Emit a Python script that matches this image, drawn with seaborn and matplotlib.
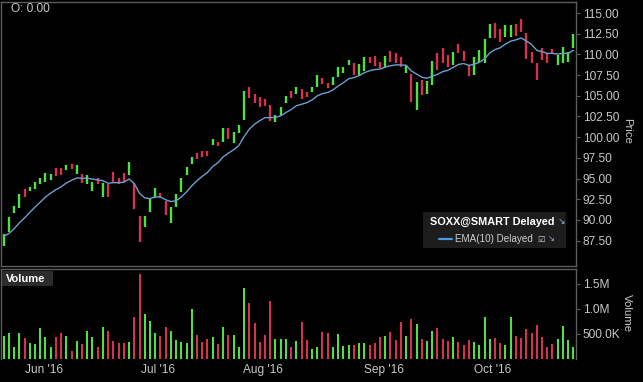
import numpy as np
import pandas as pd
import matplotlib
matplotlib.use("Agg")
import matplotlib.pyplot as plt
from matplotlib.patches import Rectangle
from matplotlib.lines import Line2D
import seaborn as sns

# ---------------- data ----------------
high = [88.3, 90.4, 91.7, 93.1, 93.7, 94.0, 94.6, 95.1, 95.7, 95.6,
        96.3, 96.3, 96.6, 96.8, 96.6, 95.6, 95.4, 94.6, 95.1, 94.5,
        94.3, 95.8, 95.1, 95.7, 97.0, 94.5, 90.5, 90.5, 92.5, 93.9,
        93.3, 92.3, 91.6, 93.1, 95.1, 96.4, 97.6, 98.1, 98.3, 98.3,
        99.8, 99.4, 101.1, 101.1, 100.6, 101.5, 105.6, 106.1, 105.2, 104.9,
        104.6, 103.9, 102.7, 103.6, 105.0, 105.6, 106.1, 105.8, 105.5, 106.1,
        107.5, 107.1, 106.5, 107.3, 108.5, 108.5, 109.3, 109.0, 108.8, 109.7,
        109.7, 109.8, 109.1, 109.8, 110.4, 110.2, 109.7, 108.7, 107.6, 106.7,
        106.9, 106.8, 109.2, 110.2, 110.8, 109.9, 110.3, 111.3, 110.4, 108.7,
        109.7, 110.5, 111.9, 113.7, 113.8, 113.1, 113.5, 113.5, 113.7, 114.3,
        112.6, 110.3, 109.0, 110.8, 110.2, 110.7, 109.9, 110.9, 110.3, 112.5]
low = [86.9, 88.5, 90.8, 91.4, 92.8, 93.5, 93.7, 94.3, 94.6, 94.8,
       95.3, 95.4, 96.0, 96.2, 95.6, 94.5, 94.3, 93.5, 94.3, 92.8,
       92.8, 94.6, 94.3, 94.6, 95.4, 91.3, 87.3, 89.2, 91.0, 92.7,
       92.7, 90.6, 89.6, 91.6, 93.4, 95.4, 96.8, 97.4, 97.6, 97.7,
       99.1, 98.9, 99.4, 99.8, 99.3, 100.5, 102.1, 104.7, 104.1, 103.6,
       103.8, 102.0, 101.8, 102.7, 104.1, 104.7, 105.2, 104.6, 104.9, 105.5,
       106.1, 106.4, 105.9, 106.3, 107.3, 107.8, 108.7, 107.5, 107.5, 108.0,
       109.0, 108.6, 108.4, 108.5, 109.1, 109.0, 108.5, 107.8, 104.2, 103.3,
       105.1, 105.2, 106.3, 108.1, 109.0, 108.5, 108.7, 110.2, 109.2, 107.4,
       107.5, 109.1, 109.0, 112.0, 112.0, 111.5, 112.1, 112.1, 112.2, 112.7,
       109.4, 109.0, 106.9, 109.3, 109.0, 110.0, 108.7, 109.0, 109.1, 110.8]
open_ = [87.2, 88.9, 91.0, 91.7, 93.5, 93.6, 93.9, 94.5, 94.8, 95.0,
         96.1, 96.1, 96.1, 96.7, 95.8, 95.4, 94.5, 93.7, 94.9, 93.1,
         94.0, 95.6, 94.9, 95.5, 95.7, 93.9, 89.9, 89.5, 91.3, 92.9,
         93.2, 92.0, 90.0, 91.9, 93.7, 95.6, 96.9, 98.0, 98.2, 98.2,
         99.2, 99.3, 99.7, 100.8, 99.6, 100.7, 102.8, 105.8, 105.0, 104.6,
         104.4, 103.5, 102.0, 102.9, 104.3, 105.4, 105.4, 105.6, 105.4, 105.6,
         106.4, 107.0, 106.4, 106.5, 107.5, 107.9, 108.8, 108.7, 107.8, 108.3,
         109.6, 109.6, 109.0, 108.8, 110.1, 110.0, 109.5, 108.0, 106.9, 104.0,
         106.5, 105.5, 106.9, 109.8, 110.4, 109.6, 109.0, 111.1, 110.2, 108.4,
         107.9, 109.4, 109.6, 112.3, 113.4, 112.8, 112.4, 112.4, 113.4, 114.0,
         112.0, 110.0, 108.6, 110.5, 110.0, 110.6, 108.9, 109.4, 109.3, 111.1]
close = [88.0, 90.0, 91.5, 92.8, 93.0, 93.9, 94.4, 94.9, 95.5, 95.4,
         95.5, 95.6, 96.5, 96.3, 96.4, 94.7, 95.2, 94.4, 94.5, 94.2,
         93.1, 94.8, 94.5, 94.8, 96.7, 91.9, 87.9, 90.2, 92.2, 93.7,
         92.8, 90.9, 91.2, 92.8, 94.8, 96.2, 97.4, 97.5, 97.7, 97.8,
         99.7, 99.0, 100.8, 100.1, 100.3, 101.3, 104.9, 105.0, 104.3, 103.9,
         104.0, 102.4, 102.5, 103.4, 104.8, 104.9, 105.9, 104.8, 105.0, 106.0,
         107.2, 106.5, 106.0, 107.1, 108.3, 108.4, 109.2, 107.8, 108.5, 109.4,
         109.1, 108.8, 108.5, 109.5, 109.4, 109.2, 108.7, 108.5, 104.9, 106.0,
         105.5, 106.5, 108.6, 108.5, 109.4, 108.8, 110.0, 110.4, 109.4, 107.7,
         109.3, 110.2, 111.3, 113.4, 112.4, 111.8, 113.2, 113.2, 112.5, 113.0,
         110.0, 109.3, 107.3, 109.6, 109.2, 110.1, 109.7, 110.5, 110.1, 112.2]
volume = [450e3, 516e3, 236e3, 503e3, 403e3, 303e3, 283e3, 603e3, 437e3, 237e3,
          437e3, 503e3, 450e3, 150e3, 357e3, 290e3, 550e3, 423e3, 223e3, 637e3,
          550e3, 350e3, 317e3, 303e3, 337e3, 823e3, 1700e3, 883e3, 750e3, 503e3,
          450e3, 637e3, 557e3, 370e3, 323e3, 317e3, 1000e3, 470e3, 337e3, 383e3,
          437e3, 290e3, 637e3, 470e3, 470e3, 223e3, 1420e3, 1120e3, 717e3, 337e3,
          470e3, 1150e3, 383e3, 383e3, 383e3, 223e3, 357e3, 737e3, 370e3, 190e3,
          223e3, 537e3, 503e3, 223e3, 490e3, 257e3, 270e3, 270e3, 317e3, 303e3,
          270e3, 317e3, 423e3, 450e3, 537e3, 370e3, 737e3, 450e3, 790e3, 683e3,
          383e3, 343e3, 550e3, 610e3, 383e3, 343e3, 423e3, 330e3, 270e3, 370e3,
          330e3, 270e3, 837e3, 383e3, 417e3, 317e3, 270e3, 837e3, 450e3, 403e3,
          583e3, 503e3, 670e3, 423e3, 223e3, 290e3, 383e3, 643e3, 370e3, 223e3]
month_pos = [7.7, 29.6, 49.6, 72.7, 93.6]
month_labels = ["Jun '16", "Jul '16", "Aug '16", "Sep '16", "Oct '16"]
price_ticks = [87.5, 90.0, 92.5, 95.0, 97.5, 100.0, 102.5, 105.0, 107.5, 110.0, 112.5, 115.0]
vol_ticks = [500e3, 1000e3, 1500e3]
vol_labels = ["500.0K", "1.0M", "1.5M"]

df = pd.DataFrame({"i": np.arange(len(close)), "open": open_, "high": high,
                   "low": low, "close": close, "volume": volume})
df["dir"] = np.where(df["close"] >= df["open"], "up", "down")
df["ema"] = df["close"].ewm(span=10, adjust=False).mean()

GREEN = "#4fe045"
RED = "#d8304f"
EMA_C = "#6c9fd0"
TXT = "#c8c8c8"
SPINE = "#5c5c5c"

sns.set_theme(style="dark", rc={"axes.facecolor": "black", "figure.facecolor": "black",
                                "axes.grid": False})
plt.rcParams["font.family"] = ["Liberation Sans", "DejaVu Sans"]

W, H = 643, 382
fig = plt.figure(figsize=(W / 100, H / 100), dpi=100)
fig.patch.set_facecolor("black")


def fx(x):
    return x / W


def fy(y):
    return 1 - y / H


ax = fig.add_axes([fx(1), fy(266), fx(576) - fx(1), fy(2) - fy(266)])
axv = fig.add_axes([fx(1), fy(358.5), fx(576) - fx(1), fy(269) - fy(358.5)])
for a in (ax, axv):
    a.set_facecolor("black")

# ---- price bars ----
cols = [GREEN if d == "up" else RED for d in df["dir"]]
ax.vlines(df["i"], df["low"], df["high"], colors=cols, linewidth=1.7)
sns.lineplot(data=df, x="i", y="ema", ax=ax, color=EMA_C, linewidth=1.0)

ax.set_xlim(-0.5, 109.5)
ax.set_ylim(84.44, 116.33)
ax.set_xticks([])
ax.yaxis.tick_right()
ax.set_yticks(price_ticks)
ax.set_yticklabels([f"{v:.2f}" for v in price_ticks])
ax.tick_params(axis="y", which="both", right=True, left=False, length=3, width=0.8,
               color=SPINE, pad=2, labelsize=8.6, labelcolor=TXT)
ax.set_xlabel("")
ax.set_ylabel("")
for s in ax.spines.values():
    s.set_color(SPINE)
    s.set_linewidth(1.0)
    s.set_visible(True)

# ---- volume ----
sns.barplot(data=df, x="i", y="volume", hue="dir", palette={"up": GREEN, "down": RED},
            dodge=False, native_scale=True, width=0.38, legend=False, errorbar=None,
            saturation=1, edgecolor="none", linewidth=0, ax=axv)
axv.set_xlim(-0.5, 109.5)
axv.set_ylim(0, 1.79e6)
axv.yaxis.tick_right()
axv.set_yticks(vol_ticks)
axv.set_yticklabels(vol_labels)
axv.set_xticks(month_pos)
axv.set_xticklabels(month_labels)
axv.tick_params(axis="y", which="both", right=True, left=False, length=3, width=0.8,
                color=SPINE, pad=2, labelsize=8.6, labelcolor=TXT)
axv.tick_params(axis="x", length=0, pad=4, labelsize=8.6, labelcolor=TXT)
axv.set_xlabel("")
axv.set_ylabel("")
for k, s in axv.spines.items():
    s.set_color(SPINE)
    s.set_linewidth(1.0)
    s.set_visible(k != "bottom")

# ---- texts ----
fig.text(fx(11), fy(9.5), "O: 0.00", color=TXT, fontsize=8.6, va="center", ha="left")
fig.text(fx(627), fy(131), "Price", color=TXT, fontsize=8.2, rotation=-90,
         va="center", ha="center")
fig.text(fx(627), fy(313), "Volume", color=TXT, fontsize=8.2, rotation=-90,
         va="center", ha="center")

# Volume tag
fig.add_artist(Rectangle((fx(2), fy(286)), fx(53) - fx(2), fy(271) - fy(286),
                         transform=fig.transFigure, facecolor="#2c2c2c", edgecolor="none"))
fig.text(fx(6), fy(278.5), "Volume", color="white", fontsize=8, fontweight="bold",
         va="center", ha="left")

# legend box
fig.add_artist(Rectangle((fx(423), fy(248)), fx(566) - fx(423), fy(212) - fy(248),
                         transform=fig.transFigure, facecolor="#1d1d1d", edgecolor="none"))
fig.text(fx(430), fy(222), "SOXX@SMART Delayed", color="white", fontsize=7.8,
         fontweight="bold", va="center", ha="left")
fig.text(fx(558), fy(222), "\u2198", color="#8fb4e0", fontsize=6.5, va="center", ha="left",
         family=["DejaVu Sans"])
fig.add_artist(Line2D([fx(439), fx(452)], [fy(239), fy(239)], transform=fig.transFigure,
                      color="#4a98e6", linewidth=1.6))
fig.text(fx(455), fy(239), "EMA(10) Delayed", color="#d0d0d0", fontsize=7.1,
         va="center", ha="left")
fig.text(fx(537), fy(239), "\u2611", color="#d0d0d0", fontsize=6.0, va="center", ha="left",
         family=["DejaVu Sans"])
fig.text(fx(548), fy(239), "\u2198", color="#8fb4e0", fontsize=6.0, va="center", ha="left",
         family=["DejaVu Sans"])

fig.savefig("out.png", dpi=100, facecolor="black")
